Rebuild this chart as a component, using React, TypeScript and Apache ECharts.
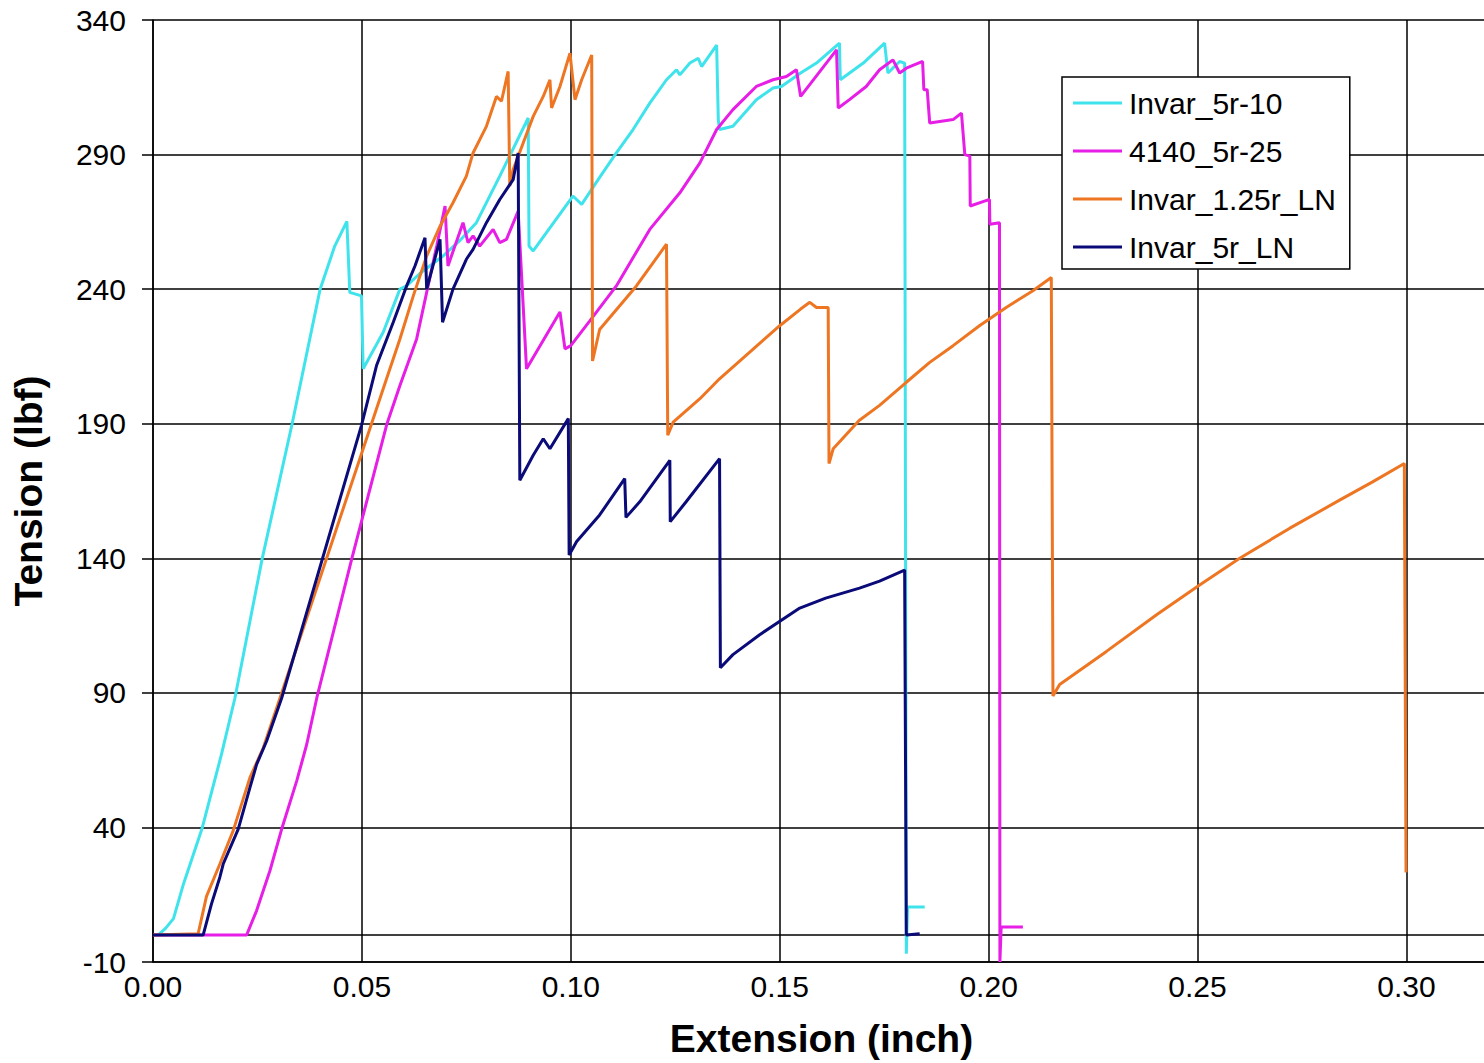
import React, { useEffect, useRef } from "react";
import * as echarts from "echarts";

const FONT = '"Liberation Sans", Arial, Helvetica, sans-serif';

const seriesNames = ["Invar_5r-10", "4140_5r-25", "Invar_1.25r_LN", "Invar_5r_LN"];
const seriesColors = ["#3FE3EC", "#E61EE6", "#EE7623", "#0A0A78"];

const xTickLabels = ["0.00", "0.05", "0.10", "0.15", "0.20", "0.25", "0.30"];
const yTickLabels = ["-10", "40", "90", "140", "190", "240", "290", "340"];

// Invar_5r-10 : [extension (inch), tension (lbf)]
const invar5r10: [number, number][] = [
  [0.0012, 0], [0.003, 2.5], [0.0049, 6.1], [0.0073, 19], [0.0117, 39.4], [0.0164, 67.2],
  [0.0196, 88], [0.0261, 139.6], [0.0333, 190], [0.04, 240], [0.0435, 256], [0.0464, 265.2],
  [0.0471, 238.8], [0.0499, 237.5], [0.0503, 210.4], [0.0551, 224], [0.0591, 240], [0.0607, 241.2],
  [0.064, 246], [0.0694, 252.3], [0.0734, 258], [0.0774, 264.7], [0.083, 282], [0.0898, 303.6],
  [0.09, 256], [0.091, 254.2], [0.1005, 274.6], [0.1026, 271.5], [0.1069, 281.5], [0.1109, 290.6],
  [0.1149, 299.3], [0.1189, 309.1], [0.1229, 317.8], [0.1253, 321.5], [0.1261, 319.6], [0.1285, 324],
  [0.1305, 325.8], [0.1313, 322.7], [0.1349, 330.7], [0.1353, 303], [0.1356, 299.3], [0.1388, 300.5],
  [0.1444, 310.4], [0.1484, 314.7], [0.1504, 315.3], [0.155, 320.3], [0.1588, 324], [0.1643, 331.4],
  [0.1645, 317.8], [0.17, 324], [0.1751, 331.4], [0.1759, 320.3], [0.1787, 324.6], [0.1799, 324],
  [0.1803, -6.9], [0.1806, 10.4], [0.1847, 10.4],
];

// 4140_5r-25
const s4140_5r25: [number, number][] = [
  [0, 0], [0.0224, 0], [0.0248, 9.1], [0.028, 24], [0.0308, 39.4], [0.0344, 57.3], [0.0368, 70.9],
  [0.0392, 88.1], [0.0476, 140], [0.056, 190], [0.0591, 204.2], [0.0631, 221.5], [0.0655, 238.8],
  [0.0679, 256], [0.0699, 270.9], [0.0706, 248.6], [0.0742, 264.7], [0.0754, 257.3], [0.0766, 259.8],
  [0.0782, 256], [0.0814, 262.2], [0.083, 257.3], [0.0846, 258.5], [0.0874, 269], [0.0894, 210.4],
  [0.0974, 231.5], [0.0986, 217.8], [0.1, 219], [0.1045, 228.1], [0.1109, 241.2], [0.1189, 262.2],
  [0.1261, 275.8], [0.1309, 286.9], [0.1349, 299.3], [0.1388, 306.7], [0.1444, 315.3], [0.1484, 317.8],
  [0.1516, 319], [0.154, 321.5], [0.155, 311.6], [0.1636, 328.9], [0.164, 307.3], [0.1667, 310.4],
  [0.1707, 315.3], [0.1739, 321.5], [0.1771, 325.2], [0.1787, 320.3], [0.1803, 322.1], [0.1842, 324.6],
  [0.1845, 314.1], [0.1853, 314.1], [0.1859, 301.7], [0.1915, 303], [0.1935, 305.4], [0.1943, 290],
  [0.1955, 289.4], [0.1956, 270.9], [0.199, 272.7], [0.2002, 273.3], [0.2003, 264.1], [0.2026, 264.7],
  [0.2027, -10], [0.203, 3], [0.2082, 3],
];

// Invar_1.25r_LN
const invar125rLN: [number, number][] = [
  [0, 0], [0.0108, 0.5], [0.0128, 14.4], [0.016, 26.4], [0.0192, 38.8], [0.0232, 58.5], [0.0264, 69.6],
  [0.0304, 88.1], [0.0523, 190], [0.0559, 206.7], [0.0591, 221.5], [0.0623, 237.5], [0.0655, 252.3],
  [0.0687, 263.4], [0.0718, 272.1], [0.075, 282], [0.0766, 290.6], [0.0798, 300.5], [0.0822, 311.6],
  [0.0834, 309.8], [0.085, 320.9], [0.0854, 278.3], [0.0862, 284.4], [0.0886, 294.3], [0.091, 304.2],
  [0.0934, 311.6], [0.095, 317.8], [0.0954, 307.3], [0.0974, 315.3], [0.0998, 327.7], [0.101, 310.4],
  [0.1026, 317.8], [0.105, 327], [0.1052, 213.3], [0.1069, 225], [0.1157, 241.2], [0.1229, 256.7],
  [0.1232, 185.7], [0.1245, 190.6], [0.1309, 199.3], [0.1356, 206.7], [0.15, 226.4], [0.155, 232.6],
  [0.1572, 235.1], [0.1588, 233.2], [0.1616, 233.2], [0.1618, 175.2], [0.1628, 180.7], [0.169, 191.2],
  [0.1739, 196.8], [0.1803, 205.4], [0.1859, 212.8], [0.1915, 219], [0.1978, 226.4], [0.2042, 233.2],
  [0.2106, 239.4], [0.215, 244.3], [0.2154, 88.8], [0.217, 93.1], [0.2282, 105.4], [0.2402, 119],
  [0.2505, 130.1], [0.2601, 140], [0.272, 151.1], [0.284, 161.6], [0.2919, 168.4], [0.2995, 175.2],
  [0.2999, 23.3],
];

// Invar_5r_LN
const invar5rLN: [number, number][] = [
  [0, 0], [0.012, 0], [0.014, 11.6], [0.016, 21.5], [0.0168, 26.4], [0.0204, 39.4], [0.0232, 54.8],
  [0.0248, 63.4], [0.0272, 72.1], [0.0308, 88.1], [0.0499, 189.4], [0.0535, 211.6], [0.0575, 227.7],
  [0.0607, 241.2], [0.0627, 248.6], [0.0651, 259.1], [0.0655, 240], [0.0687, 258.5], [0.0693, 227.7],
  [0.0718, 240], [0.075, 251.1], [0.0766, 254.8], [0.0798, 264.7], [0.083, 273.3], [0.0862, 280.7],
  [0.0874, 290.6], [0.0878, 169], [0.091, 178.3], [0.0934, 184.4], [0.095, 180.7], [0.0994, 191.9],
  [0.0996, 141.2], [0.1014, 146.2], [0.1069, 156.1], [0.1129, 169.6], [0.1132, 155.2], [0.1165, 161],
  [0.1237, 176.4], [0.1238, 153.6], [0.1276, 161], [0.1356, 177], [0.1358, 99.3], [0.1388, 104.2],
  [0.1452, 111.6], [0.1548, 121.5], [0.161, 125.2], [0.1691, 128.9], [0.1739, 131.5], [0.1799, 135.6],
  [0.1803, 0], [0.1835, 0.5],
];

const seriesData = [invar5r10, s4140_5r25, invar125rLN, invar5rLN];

export default function App() {
  const ref = useRef<HTMLDivElement>(null);

  useEffect(() => {
    if (!ref.current) return;
    const chart = echarts.init(ref.current, null, { renderer: "svg" });
    chart.setOption({
      animation: false,
      backgroundColor: "#ffffff",
      textStyle: { fontFamily: FONT },
      grid: { left: 153, top: 20, right: 10, bottom: 98, containLabel: false },
      legend: {
        data: seriesNames.map((n) => ({ name: n, icon: "rect" })),
        orient: "vertical",
        left: 1062,
        top: 77,
        backgroundColor: "#ffffff",
        borderColor: "#000000",
        borderWidth: 1.5,
        padding: [11, 14, 7, 11],
        itemWidth: 49,
        itemHeight: 3,
        itemGap: 18,
        selectedMode: false,
        textStyle: { fontSize: 30, fontFamily: FONT, color: "#000", lineHeight: 30, padding: [0, 0, 0, 2] },
      },
      xAxis: {
        type: "value",
        min: 0,
        max: 0.32,
        interval: 0.05,
        name: "Extension (inch)",
        nameLocation: "middle",
        nameGap: 57,
        nameTextStyle: { fontSize: 39, fontWeight: "bold", color: "#000", fontFamily: FONT },
        axisLine: { show: true, onZero: false, lineStyle: { color: "#000", width: 1.5 } },
        axisTick: { show: false },
        splitLine: { show: true, lineStyle: { color: "#000", width: 1.5 } },
        axisLabel: {
          fontSize: 30,
          color: "#000",
          fontFamily: FONT,
          margin: 9,
          showMaxLabel: false,
          formatter: (v: number) => {
            const s = v.toFixed(2);
            return xTickLabels.includes(s) ? s : "";
          },
        },
      },
      yAxis: {
        type: "value",
        min: -10,
        max: 340,
        interval: 50,
        name: "Tension (lbf)",
        nameLocation: "middle",
        nameGap: 105,
        nameTextStyle: { fontSize: 39, fontWeight: "bold", color: "#000", fontFamily: FONT },
        axisLine: { show: true, onZero: false, lineStyle: { color: "#000", width: 1.5 } },
        axisTick: { show: true, inside: false, length: 11, lineStyle: { color: "#000", width: 1.5 } },
        splitLine: { show: true, lineStyle: { color: "#000", width: 1.5 } },
        axisLabel: {
          fontSize: 30,
          color: "#000",
          fontFamily: FONT,
          margin: 27,
          formatter: (v: number) => {
            const s = String(Math.round(v));
            return yTickLabels.includes(s) ? s : "";
          },
        },
      },
      series: seriesNames.map((name, i) => ({
        name,
        type: "line",
        data: seriesData[i],
        showSymbol: false,
        symbol: "none",
        color: seriesColors[i],
        lineStyle: { color: seriesColors[i], width: 3 },
        itemStyle: { color: seriesColors[i] },
        z: 3 + i,
        ...(i === 0
          ? {
              markLine: {
                silent: true,
                symbol: ["none", "none"],
                label: { show: false },
                lineStyle: { color: "#000", width: 1.5, type: "solid" },
                data: [{ yAxis: 0 }],
                z: 1,
              },
            }
          : {}),
      })),
    });
    return () => chart.dispose();
  }, []);

  return (
    <div
      style={{
        position: "fixed",
        left: 0,
        top: 0,
        width: 1484,
        height: 1063,
        overflow: "hidden",
        background: "#fff",
      }}
    >
      <div ref={ref} style={{ width: 1500, height: 1063 }} />
    </div>
  );
}
